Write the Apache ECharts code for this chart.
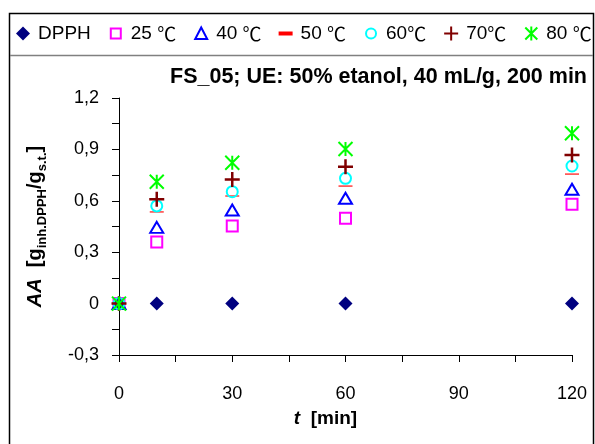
<!DOCTYPE html>
<html><head><meta charset="utf-8">
<script src="https://cdn.jsdelivr.net/npm/echarts@6/dist/echarts.min.js"></script>
<style>html,body{margin:0;padding:0;background:#fff}#c{width:595px;height:444px}</style>
</head><body><div id="c"></div>
<script>
// ---- data ----
const times = [0, 10, 30, 60, 120];
const seriesNames = ['DPPH', '25 ℃', '40 ℃', '50 ℃', '60℃', '70℃', '80 ℃'];
const dpph = [0, 0, 0, 0, 0];
const t25 = [0, 0.360, 0.453, 0.498, 0.580];
const t40 = [0, 0.445, 0.546, 0.615, 0.667];
const t50 = [0, 0.535, 0.628, 0.686, 0.756];
const t60 = [0, 0.570, 0.653, 0.731, 0.803];
const t70 = [0, 0.609, 0.725, 0.799, 0.867];
const t80 = [0, 0.711, 0.822, 0.902, 0.994];
const xTickValues = [0, 30, 60, 90, 120];
const yTickValues = [-0.3, 0, 0.3, 0.6, 0.9, 1.2];
const titleText = 'FS_05; UE: 50% etanol, 40 mL/g, 200 min';

const FONT = "'Liberation Sans', Arial, 'Noto Sans CJK SC', sans-serif";
const CJK = "'Noto Sans CJK SC', 'Liberation Sans', sans-serif";
const values = [dpph, t25, t40, t50, t60, t70, t80];

// series marker styles; legend icons are drawn in a 20x14 box (anchored by M0,0 M20,14)
const BOX = 'path://M0,0M20,14';
const styles = [
  {symbol: 'path://M7,0L14,7L7,14L0,7Z', size: 14, icon: BOX + 'M10,0L17,7L10,14L3,7Z',
   itemStyle: {color: '#000080', opacity: 1}},
  {symbol: 'path://M0,0L10,0L10,10L0,10Z', size: 11, icon: BOX + 'M5,2L15,2L15,12L5,12Z',
   itemStyle: {color: 'transparent', borderColor: '#FF00FF', borderWidth: 2, opacity: 1}},
  {symbol: 'path://M6,0L12,11L0,11Z', size: [13, 12], icon: BOX + 'M10,1L16,12.5L4,12.5Z',
   itemStyle: {color: 'transparent', borderColor: '#0000FF', borderWidth: 2, opacity: 1}},
  {symbol: 'path://M0,0L14,0L14,4L0,4Z', size: [14, 4], icon: BOX + 'M3,5L17,5L17,9L3,9Z',
   itemStyle: {color: '#FF0000', opacity: 1}},
  {symbol: 'circle', size: 11, icon: BOX + 'M15,7A5,5,0,1,1,5,7A5,5,0,1,1,15,7Z',
   itemStyle: {color: 'transparent', borderColor: '#00FFFF', borderWidth: 2, opacity: 1}},
  {symbol: 'path://M0,7L14,7M7,0L7,14', size: 15, icon: BOX + 'M3,7L17,7M10,0L10,14',
   itemStyle: {color: 'transparent', borderColor: '#800000', borderWidth: 2.5, opacity: 1}},
  {symbol: 'path://M0,0L14,14M14,0L0,14M7,0L7,14', size: 14, icon: BOX + 'M4,1L16,13M16,1L4,13M10,0L10,14',
   itemStyle: {color: 'transparent', borderColor: '#00FF00', borderWidth: 2, opacity: 1}}
];

function near(v, list) { return list.some(t => Math.abs(t - v) < 1e-6); }
function fmt(v) { return v === 0 ? '0' : String(+v.toFixed(1)).replace('.', ','); }

const series = seriesNames.map((n, i) => ({
  name: n,
  type: 'scatter',
  symbol: styles[i].symbol,
  symbolSize: styles[i].size,
  symbolKeepAspect: true,
  itemStyle: styles[i].itemStyle,
  emphasis: {disabled: true},
  data: times.map((t, k) => [t, values[i][k]])
}));

const chart = echarts.init(document.getElementById('c'), null, {renderer: 'canvas'});
chart.setOption({
  animation: false,
  backgroundColor: '#fff',
  textStyle: {fontFamily: FONT},
  title: {
    text: titleText,
    right: 3, top: 61,
    textStyle: {fontFamily: FONT, fontSize: 21.5, fontWeight: 'bold', color: '#000'}
  },
  legend: {
    left: 13, top: 24, padding: 0,
    itemWidth: 20, itemHeight: 14, itemGap: 14,
    formatter: n => n.replace('℃', '{c|℃}'),
    textStyle: {fontFamily: FONT, fontSize: 19, color: '#000',
      rich: {c: {fontFamily: CJK, fontSize: 19, color: '#000'}}},
    data: seriesNames.map((n, i) => ({name: n, icon: styles[i].icon}))
  },
  graphic: [
    {type: 'rect', shape: {x: 9.5, y: 13.5, width: 584, height: 460}, style: {fill: 'none', stroke: '#000', lineWidth: 1.5}, silent: true},
    {type: 'line', shape: {x1: 10, y1: 55.5, x2: 593, y2: 55.5}, style: {stroke: '#808080', lineWidth: 1.5}, silent: true}
  ],
  grid: {left: 119, right: 23, top: 98, bottom: 89, containLabel: false},
  xAxis: {
    type: 'value', min: 0, max: 120, interval: 15,
    name: '{i|t}{b|  [min]}',
    nameLocation: 'middle', nameGap: 54,
    nameTextStyle: {padding: [0, 40, 0, 0], rich: {
      i: {fontFamily: FONT, fontSize: 19, fontWeight: 'bold', fontStyle: 'italic', color: '#000'},
      b: {fontFamily: FONT, fontSize: 19, fontWeight: 'bold', color: '#000'}
    }},
    axisLine: {onZero: false, lineStyle: {color: '#000', width: 1}},
    axisTick: {show: true, inside: false, length: 7, lineStyle: {color: '#000'}},
    axisLabel: {margin: 30, fontFamily: FONT, fontSize: 18, color: '#000',
      formatter: v => near(v, xTickValues) ? String(v) : ''},
    splitLine: {show: false}
  },
  yAxis: {
    type: 'value', min: -0.3, max: 1.2, interval: 0.15,
    name: '{ai|AA}{b|  [g}{s|inh.DPPH}{b|/g}{s|s.t.}{b|]}',
    nameLocation: 'middle', nameGap: 70,
    nameTextStyle: {rich: {
      ai: {fontFamily: FONT, fontSize: 20, fontWeight: 'bold', fontStyle: 'italic', color: '#000', lineHeight: 24, verticalAlign: 'top'},
      b: {fontFamily: FONT, fontSize: 20, fontWeight: 'bold', color: '#000', lineHeight: 24, verticalAlign: 'top'},
      s: {fontFamily: FONT, fontSize: 13, fontWeight: 'bold', color: '#000', lineHeight: 10, verticalAlign: 'bottom'}
    }},
    axisLine: {onZero: false, lineStyle: {color: '#000', width: 1}},
    axisTick: {show: true, inside: false, length: 7, lineStyle: {color: '#000'}},
    axisLabel: {margin: 20, fontFamily: FONT, fontSize: 18, color: '#000',
      formatter: v => near(v, yTickValues) ? fmt(v) : ''},
    splitLine: {show: false}
  },
  series: series
});
</script></body></html>
